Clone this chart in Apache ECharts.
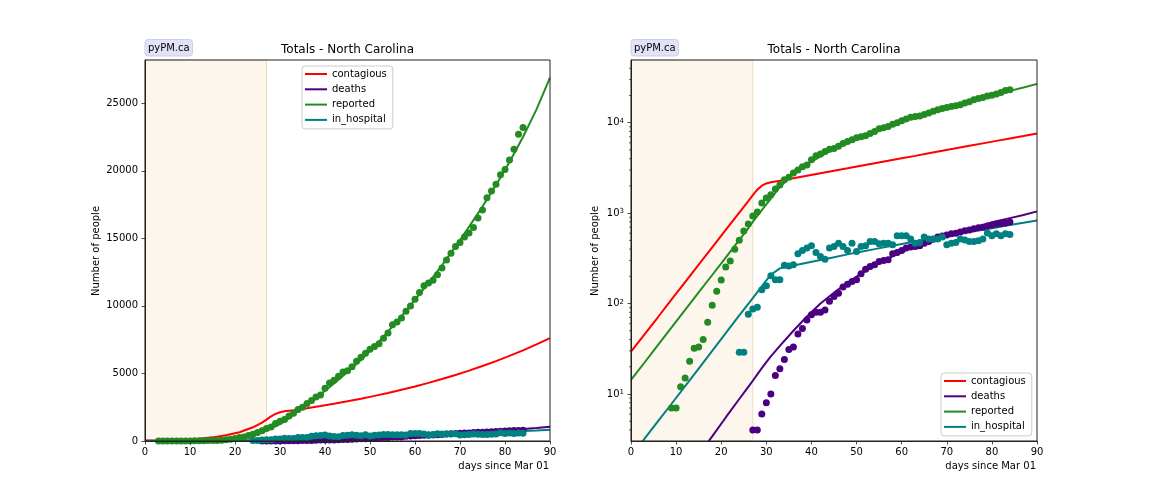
<!DOCTYPE html>
<html><head><meta charset="utf-8">
<script src="https://cdn.jsdelivr.net/npm/echarts@6/dist/echarts.min.js"></script>
<style>html,body{margin:0;padding:0;background:#fff}#c{width:1152px;height:504px}</style>
</head><body><div id="c"></div>
<script>
// ---- model curves ----
const modelDays = [0,3,6,9,12,15,18,21,24,26,27,28,29,30,31,33,36,39,42,45,48,51,54,57,60,63,66,69,72,75,78,81,84,87,90];
const contagiousModel = [29.4,45.7,71,111,173,269,419,652,1015,1360,1580,1820,2010,2130,2200,2280,2430,2590,2760,2940,3130,3340,3560,3790,4040,4300,4590,4890,5210,5550,5910,6300,6710,7150,7620];
const deathsModel = [0.2,0.32,0.51,0.82,1.32,2.12,3.4,5.5,8.8,12,14,16.5,19.3,22.5,26,34,50,72,100,132,170,214,263,316,372,432,490,550,610,676,741,813,881,955,1047];
const reportedModel = [14.3,22.3,34.9,54.4,85,133,207,323,505,680,800,930,1080,1250,1450,1950,2700,3450,4250,5100,6000,7000,8100,9250,10450,11700,13000,14400,15850,17350,18950,20650,22500,24550,26900];
const hospitalModel = [2.0,3.2,5.0,7.8,12.2,19.1,30,47,74,99,115,134,155,181,208,245,263,283,304,326,350,375,400,427,456,487,518,550,583,618,656,695,738,782,830];

// ---- observed data (one value per day, starting at the given day) ----
const reportedStart = 3;
const reportedData = [1,1,1,2,2,2,7,7,12,15,23,32,33,40,62,96,137,182,253,295,400,503,634,757,929,1030,1294,1470,1600,1850,2050,2340,2500,2780,3000,3250,3400,3900,4300,4500,4800,5100,5200,5500,5900,6200,6500,6800,7000,7200,7600,8000,8600,8800,9100,9600,10000,10500,11000,11500,11700,11900,12300,12800,13400,13900,14400,14700,15100,15400,15800,16500,17100,18000,18500,19000,19700,20100,20800,21600,22700,23200];
const deathsStart = 26;
const deathsData = [3,4,4,6,8,10,16,19,24,31,33,46,53,66,75,80,80,85,106,120,130,152,164,175,183,213,240,257,268,292,299,305,355,367,386,411,421,427,435,466,486,515,543,560,575,590,600,620,640,650,670,690,700,720,740,760,770,780,800];
const hospitalStart = 24;
const hospitalData = [29,29,76,87,91,142,157,203,183,183,266,261,268,355,386,411,435,367,332,310,411,429,466,429,386,466,376,429,435,486,486,458,466,466,447,562,562,562,517,466,473,543,517,517,517,543,447,466,473,517,505,486,486,495,517,603,562,590,562,590,580];

// ---- axes / ticks ----
const xTicks = [0,10,20,30,40,50,60,70,80,90];
const linearYTicks = [0,5000,10000,15000,20000,25000];
const logYTicks = [10,100,1000,10000];
const logMinorTicks = [4,5,6,7,8,9,20,30,40,50,60,70,80,90,200,300,400,500,600,700,800,900,2000,3000,4000,5000,6000,7000,8000,9000,20000,30000,40000];
const shadeRange = [0, 27];
const names = ['contagious','deaths','reported','in_hospital'];
const colors = {contagious:'#ff0000', deaths:'#4b0082', reported:'#228b22', in_hospital:'#008080'};

const FONT = 'DejaVu Sans';
const pairs = (days, vals) => days.map((d,i) => [d, vals[i]]);
const fromStart = (start, vals) => vals.map((v,i) => [start+i, v]);

const chart = echarts.init(document.getElementById('c'), null, {renderer:'canvas'});

function xAxisFor(gi){
  return {type:'value', gridIndex:gi, min:0, max:90, interval:10, z:10,
    axisLine:{show:true, lineStyle:{color:'#222', width:1}},
    axisTick:{show:true, length:3.5, lineStyle:{color:'#222', width:0.8}, customValues:xTicks},
    axisLabel:{color:'#000', fontSize:10, fontFamily:FONT, margin:6, customValues:xTicks, formatter: v => String(v)},
    splitLine:{show:false}};
}

const seriesFor = (gi) => {
  const s = [];
  const common = {xAxisIndex:gi, yAxisIndex:gi};
  const lineS = (name, data, extra) => Object.assign({type:'line', name, data, symbol:'none', showSymbol:false, smooth:false,
      lineStyle:{color:colors[name], width:2}, itemStyle:{color:colors[name]}, z:3, clip:true, silent:true, animation:false}, common, extra||{});
  const dotS = (name, data) => Object.assign({type:'scatter', name, data, symbol:'circle', symbolSize:7,
      itemStyle:{color:colors[name], opacity:1}, z:4, clip:true, silent:true, animation:false}, common);
  s.push(lineS('contagious', pairs(modelDays, contagiousModel), {
    markArea:{silent:true, z:1, itemStyle:{color:'#fdf6ec', borderColor:'#efdcbf', borderWidth:1},
      data:[[{xAxis:shadeRange[0]},{xAxis:shadeRange[1]}]]}}));
  s.push(lineS('deaths', pairs(modelDays, deathsModel)));
  s.push(dotS('deaths', fromStart(deathsStart, deathsData)));
  s.push(lineS('reported', pairs(modelDays, reportedModel)));
  s.push(dotS('reported', fromStart(reportedStart, reportedData)));
  s.push(lineS('in_hospital', pairs(modelDays, hospitalModel)));
  s.push(dotS('in_hospital', fromStart(hospitalStart, hospitalData)));
  return s;
};

const series = seriesFor(0).concat(seriesFor(1));
series.push({type:'custom', xAxisIndex:1, yAxisIndex:1, silent:true, z:12, clip:false, animation:false,
  data: logMinorTicks.map(v => [0, v]),
  renderItem: (params, api) => {
    const p = api.coord([api.value(0), api.value(1)]);
    return {type:'line', shape:{x1:p[0]-2, y1:p[1], x2:p[0], y2:p[1]}, style:{stroke:'#222', lineWidth:0.7}};
  }});

const legendCommon = {orient:'vertical', data:names, selectedMode:false, itemWidth:22, itemHeight:12, itemGap:3.3,
  icon:'path://M0,0 L22,0 L22,2 L0,2 Z', symbolKeepAspect:true,
  textStyle:{fontSize:10, fontFamily:FONT, color:'#000', lineHeight:12},
  backgroundColor:'rgba(255,255,255,0.8)', borderColor:'#cccccc', borderWidth:1, borderRadius:3};

const graphic = [];
[[145, 347.5], [631, 834]].forEach(([gx, cx]) => {
  graphic.push({type:'text', x:cx, y:49.5, style:{text:'Totals - North Carolina', fontSize:12, fontFamily:FONT, fill:'#000', align:'center', verticalAlign:'middle'}});
  graphic.push({type:'rect', x:gx, y:39.5, shape:{width:47.5, height:16.5, r:3}, style:{fill:'#e1e1f7', stroke:'#cdcdef', lineWidth:1}});
  graphic.push({type:'text', x:gx+23.75, y:48, style:{text:'pyPM.ca', fontSize:10, fontFamily:FONT, fill:'#000', align:'center', verticalAlign:'middle'}});
});
graphic.push({type:'text', x:549, y:466, style:{text:'days since Mar 01', fontSize:10, fontFamily:FONT, fill:'#000', align:'right', verticalAlign:'middle'}});
graphic.push({type:'text', x:1036, y:466, style:{text:'days since Mar 01', fontSize:10, fontFamily:FONT, fill:'#000', align:'right', verticalAlign:'middle'}});
graphic.push({type:'text', x:96, y:251, rotation:Math.PI/2, style:{text:'Number of people', fontSize:10, fontFamily:FONT, fill:'#000', align:'center', verticalAlign:'middle'}});
graphic.push({type:'text', x:595.5, y:251, rotation:Math.PI/2, style:{text:'Number of people', fontSize:10, fontFamily:FONT, fill:'#000', align:'center', verticalAlign:'middle'}});

chart.setOption({
  animation:false,
  backgroundColor:'#ffffff',
  textStyle:{fontFamily:FONT},
  grid:[
    {left:145, top:60, width:405, height:381, show:true, borderColor:'#222', borderWidth:1, backgroundColor:'transparent', z:10},
    {left:631, top:60, width:406, height:381, show:true, borderColor:'#222', borderWidth:1, backgroundColor:'transparent', z:10}
  ],
  xAxis:[xAxisFor(0), xAxisFor(1)],
  yAxis:[
    {type:'value', gridIndex:0, min:0, max:28200, interval:5000, z:10,
      axisLine:{show:true, lineStyle:{color:'#222', width:1}},
      axisTick:{show:true, length:3.5, lineStyle:{color:'#222', width:0.8}, customValues:linearYTicks},
      axisLabel:{color:'#000', fontSize:10, fontFamily:FONT, margin:7, customValues:linearYTicks, formatter: v => String(v)},
      splitLine:{show:false}},
    {type:'log', gridIndex:1, logBase:10, min:3.02, max:49400, z:10,
      axisLine:{show:true, lineStyle:{color:'#222', width:1}},
      axisTick:{show:true, length:3.5, lineStyle:{color:'#222', width:0.8}, customValues:logYTicks},
      axisLabel:{color:'#000', fontSize:10, fontFamily:FONT, margin:7, customValues:logYTicks,
        formatter: v => '10{s|' + Math.round(Math.log10(v)) + '}',
        rich:{s:{fontSize:7, fontFamily:FONT, color:'#000', verticalAlign:'top', lineHeight:9}}},
      splitLine:{show:false}}
  ],
  legend:[
    Object.assign({left:302, top:66, padding:[2,6,3,3]}, legendCommon),
    Object.assign({left:941, top:373, padding:[2,6,3,3]}, legendCommon)
  ],
  graphic: graphic,
  series: series
});
</script></body></html>
